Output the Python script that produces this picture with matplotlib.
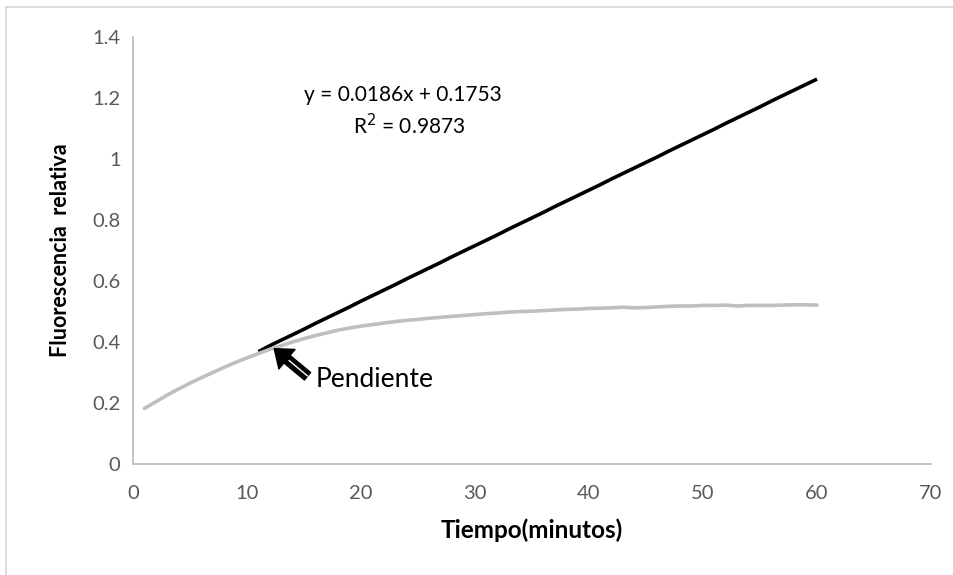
import matplotlib
matplotlib.use("Agg")
import matplotlib.pyplot as plt
from matplotlib.lines import Line2D
from matplotlib.patches import FancyArrowPatch

plt.rcParams['font.family'] = ['Lato', 'DejaVu Sans']

minutes = list(range(1, 61))
gray_values = [0.182, 0.204, 0.226, 0.246, 0.265, 0.283, 0.300, 0.317, 0.333, 0.348,
               0.362, 0.376, 0.388, 0.400, 0.411, 0.421, 0.430, 0.439, 0.446, 0.452,
               0.457, 0.462, 0.467, 0.471, 0.474, 0.478, 0.481, 0.484, 0.487, 0.490,
               0.493, 0.495, 0.498, 0.500, 0.501, 0.503, 0.505, 0.507, 0.508, 0.510,
               0.511, 0.512, 0.514, 0.512, 0.513, 0.515, 0.517, 0.518, 0.518, 0.520,
               0.520, 0.521, 0.518, 0.520, 0.520, 0.520, 0.521, 0.522, 0.522, 0.521]

fit_minutes = list(range(11, 61))
black_values = [0.368, 0.388, 0.406, 0.424, 0.442, 0.461, 0.479, 0.497, 0.515, 0.534,
                0.552, 0.570, 0.588, 0.607, 0.625, 0.643, 0.661, 0.680, 0.698, 0.716,
                0.734, 0.752, 0.771, 0.789, 0.807, 0.825, 0.844, 0.862, 0.880, 0.898,
                0.916, 0.935, 0.953, 0.971, 0.989, 1.007, 1.026, 1.044, 1.062, 1.080,
                1.098, 1.117, 1.135, 1.153, 1.171, 1.190, 1.208, 1.226, 1.244, 1.262]

x_ticks = [0, 10, 20, 30, 40, 50, 60, 70]
y_ticks = [0, 0.2, 0.4, 0.6, 0.8, 1.0, 1.2, 1.4]
y_tick_labels = ["0", "0.2", "0.4", "0.6", "0.8", "1", "1.2", "1.4"]

fig = plt.figure(figsize=(9.54, 5.75), dpi=100)
ax = fig.add_axes([133/954, (575-464)/575, (931-133)/954, (464-37)/575])

ax.plot(fit_minutes, black_values, color='black', lw=2.6, solid_capstyle='butt', zorder=2)
ax.plot(minutes, gray_values, color='#bfbfbf', lw=2.6, solid_capstyle='round', zorder=3)

ax.set_xlim(0, 70)
ax.set_ylim(0, 1.4)
ax.set_xticks(x_ticks)
ax.set_yticks(y_ticks)
ax.set_yticklabels(y_tick_labels)
ax.tick_params(length=0, labelsize=14.5, labelcolor='#595959')
ax.tick_params(axis='x', pad=15)
ax.tick_params(axis='y', pad=9)
for s in ['top', 'right']:
    ax.spines[s].set_visible(False)
for s in ['left', 'bottom']:
    ax.spines[s].set_color('#bfbfbf')
    ax.spines[s].set_linewidth(1.3)

ax.set_xlabel('Tiempo(minutos)', fontsize=17.5, fontweight='bold', labelpad=12)
ax.set_ylabel('Fluorescencia  relativa', fontsize=15.5, fontweight='bold', labelpad=15)

ax.text(23.7, 1.21, 'y = 0.0186x + 0.1753', ha='center', va='center', fontsize=15)
ax.text(24.2, 1.11, r'R$^2$ = 0.9873', ha='center', va='center', fontsize=15)

arrow = FancyArrowPatch((15.5, 0.282), (12.2, 0.384),
                        arrowstyle='simple,head_length=0.85,head_width=1.3,tail_width=0.5',
                        mutation_scale=14, fc='black', ec='black', lw=1.0, zorder=5)
ax.add_patch(arrow)
ax.plot([15.3, 13.7], [0.289, 0.339], color='white', lw=1.0, zorder=6)
ax.text(16.0, 0.277, 'Pendiente', ha='left', va='center', fontsize=19)

fig.add_artist(Line2D([6/954, 1.0], [1 - 6.5/575, 1 - 6.5/575], color='#d9d9d9', lw=1.3,
                      transform=fig.transFigure))
fig.add_artist(Line2D([6.5/954, 6.5/954], [0, 1 - 6.5/575], color='#d9d9d9', lw=1.3,
                      transform=fig.transFigure))

fig.savefig('out.png', dpi=100)
